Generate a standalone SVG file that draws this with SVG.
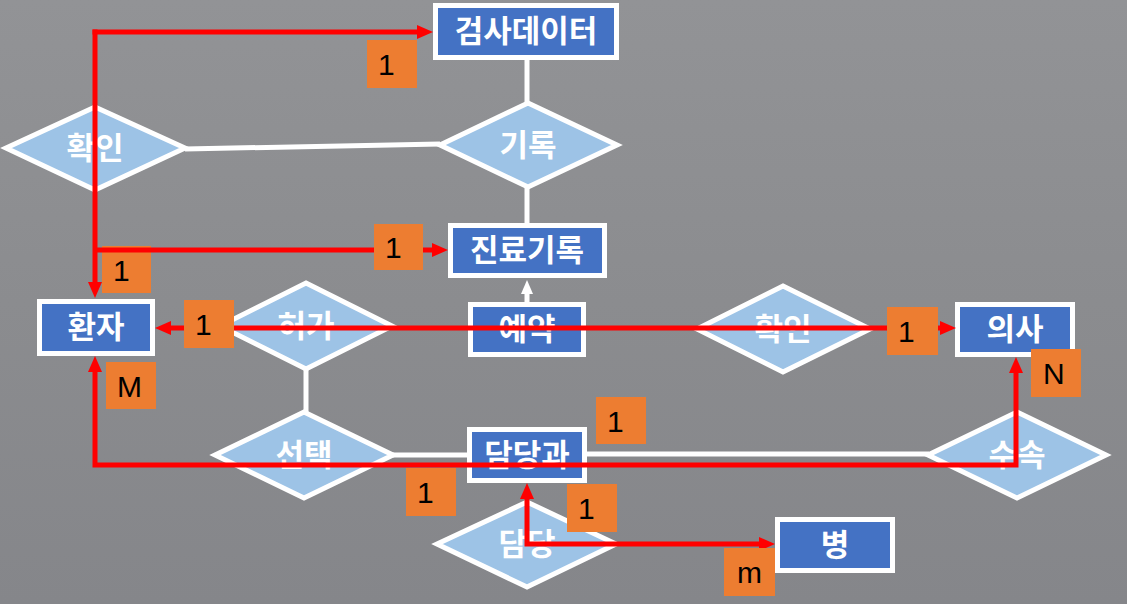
<svg xmlns="http://www.w3.org/2000/svg" width="1127" height="604" viewBox="0 0 1127 604">
<defs>
<linearGradient id="bg" x1="0" y1="0" x2="0" y2="1">
<stop offset="0" stop-color="#929396"/>
<stop offset="0.5" stop-color="#8b8c8f"/>
<stop offset="1" stop-color="#85868a"/>
</linearGradient>
<marker id="ra" viewBox="0 0 16 14" refX="5" refY="7" markerWidth="16" markerHeight="14" markerUnits="userSpaceOnUse" orient="auto-start-reverse">
<path d="M0,0 L16,7 L0,14 Z" fill="#ff0000"/>
</marker>
<marker id="wa" viewBox="0 0 14 14" refX="4" refY="7" markerWidth="14" markerHeight="14" markerUnits="userSpaceOnUse" orient="auto">
<path d="M0,1 L14,7 L0,13 Z" fill="#ffffff"/>
</marker>
</defs>
<style>
.ent{fill:#4472c4;stroke:#ffffff;stroke-width:5}
.rel{fill:#9dc3e6;stroke:#ffffff;stroke-width:5;stroke-linejoin:miter}
.t{font-family:"Noto Sans CJK KR","Noto Sans",sans-serif;font-weight:bold;font-size:31px;fill:#ffffff;text-anchor:middle}
.wl{fill:none;stroke:#ffffff;stroke-width:5}
.rl{fill:none;stroke:#ff0000;stroke-width:5;stroke-linejoin:miter}
.lb{fill:#ed7d31}
.lt{font-family:"Liberation Sans","Noto Sans",sans-serif;font-size:30px;fill:#000000}
</style>
<rect x="0" y="0" width="1127" height="604" fill="url(#bg)"/>

<g id="connectors">
<path class="wl" d="M527,60 V103"/>
<path class="wl" d="M527,187 V223"/>
<path class="wl" d="M185,149 L440,144"/>
<path class="wl" d="M306,369 V413"/>
<path class="wl" d="M393,455 H468"/>
<path class="wl" d="M586,454 H929"/>
<path class="wl" d="M527,302 V290" marker-end="url(#wa)"/>
</g>

<g id="node-checkdata"><rect class="ent" x="435.5" y="5.5" width="181" height="52"/><text class="t" x="526" y="42">검사데이터</text></g>
<g id="node-record"><polygon class="rel" points="528,103 617,145 528,187 440,145"/><text class="t" x="528" y="156">기록</text></g>
<g id="node-confirm1"><polygon class="rel" points="95,107 185,148 95,190 6,148"/><text class="t" x="95" y="159">확인</text></g>
<g id="node-medrecord"><rect class="ent" x="450.5" y="225.5" width="154" height="50"/><text class="t" x="527" y="261">진료기록</text></g>
<g id="node-patient"><rect class="ent" x="39.5" y="301.5" width="113" height="52"/><text class="t" x="96" y="338">환자</text></g>
<g id="node-permit"><polygon class="rel" points="306,283 392,326 306,369 220,326"/><text class="t" x="306" y="337">허가</text></g>
<g id="node-reserve"><rect class="ent" x="470.5" y="304.5" width="113" height="50"/><text class="t" x="527" y="340">예약</text></g>
<g id="node-confirm2"><polygon class="rel" points="783,286 870,329 783,372 697,329"/><text class="t" x="783" y="340">확인</text></g>
<g id="node-doctor"><rect class="ent" x="957.5" y="304.5" width="115" height="50"/><text class="t" x="1015" y="340">의사</text></g>
<g id="node-select"><polygon class="rel" points="304,412 393,455 304,498 215,455"/><text class="t" x="304" y="466">선택</text></g>
<g id="node-dept"><rect class="ent" x="469.5" y="429.5" width="115" height="51"/><text class="t" x="527" y="466">담당과</text></g>
<g id="node-belong"><polygon class="rel" points="1017,412 1106,455 1017,498 928,455"/><text class="t" x="1017" y="466">수속</text></g>
<g id="node-charge"><polygon class="rel" points="527,502 616,544 527,587 437,544"/><text class="t" x="527" y="555">담당</text></g>
<g id="node-ward"><rect class="ent" x="777.5" y="519.5" width="115" height="51"/><text class="t" x="835" y="556">병</text></g>

<g id="label-under">
<rect class="lb" x="102" y="246" width="49" height="47"/><text class="lt" x="113" y="281">1</text>
</g>

<g id="relations">
<path class="rl" d="M95,29.5 V287" marker-end="url(#ra)"/>
<path class="rl" d="M92.5,32 H422" marker-end="url(#ra)"/>
<path class="rl" d="M95,250 H437" marker-end="url(#ra)"/>
<path class="rl" d="M166,328 H945" marker-start="url(#ra)" marker-end="url(#ra)"/>
<path class="rl" d="M95,367 V465 H1016 V368" marker-start="url(#ra)" marker-end="url(#ra)"/>
<path class="rl" d="M527,494 V544 H764" marker-start="url(#ra)" marker-end="url(#ra)"/>
</g>

<g id="labels">
<rect class="lb" x="367" y="40" width="50" height="48"/><text class="lt" x="378" y="75">1</text>
<rect class="lb" x="374" y="224" width="49" height="46"/><text class="lt" x="385" y="258">1</text>
<rect class="lb" x="184" y="300" width="50" height="48"/><text class="lt" x="195" y="335">1</text>
<rect class="lb" x="106" y="362" width="50" height="47"/><text class="lt" x="117" y="397">M</text>
<rect class="lb" x="887" y="307" width="51" height="48"/><text class="lt" x="898" y="342">1</text>
<rect class="lb" x="1031" y="349" width="50" height="48"/><text class="lt" x="1043" y="384">N</text>
<rect class="lb" x="596" y="397" width="50" height="47"/><text class="lt" x="607" y="432">1</text>
<rect class="lb" x="406" y="468" width="50" height="48"/><text class="lt" x="417" y="503">1</text>
<rect class="lb" x="567" y="484" width="50" height="48"/><text class="lt" x="578" y="519">1</text>
<rect class="lb" x="724" y="548" width="51" height="48"/><text class="lt" x="737" y="583">m</text>
</g>
</svg>
